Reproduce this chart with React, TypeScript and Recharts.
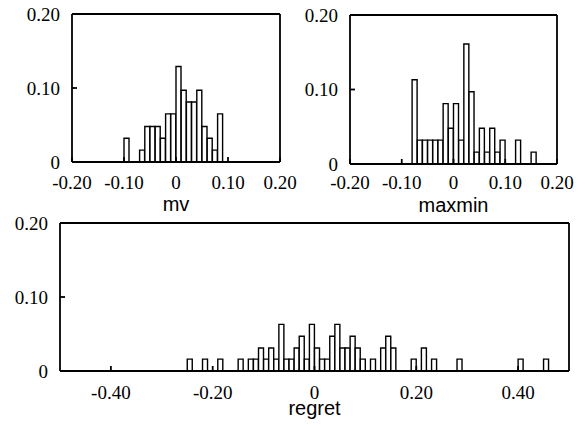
import React from 'react';
import { BarChart, Bar, XAxis, YAxis, Label } from 'recharts';

// Bin left edges (bin width 0.01) and relative frequencies
const mvBins = [-0.10, -0.07, -0.06, -0.05, -0.04, -0.03, -0.02, -0.01, 0.00, 0.01, 0.02, 0.03, 0.04, 0.05, 0.06, 0.07, 0.08];
const mvFreq = [0.032, 0.016, 0.048, 0.048, 0.048, 0.032, 0.065, 0.065, 0.129, 0.097, 0.081, 0.081, 0.097, 0.048, 0.032, 0.016, 0.065];

const maxminBins = [-0.08, -0.07, -0.06, -0.05, -0.04, -0.03, -0.02, -0.01, 0.00, 0.01, 0.02, 0.03, 0.04, 0.05, 0.06, 0.07, 0.08, 0.09, 0.12, 0.15];
const maxminFreq = [0.113, 0.032, 0.032, 0.032, 0.032, 0.032, 0.081, 0.048, 0.081, 0.032, 0.161, 0.097, 0.016, 0.048, 0.016, 0.048, 0.016, 0.032, 0.032, 0.016];

const regretBins = [-0.25, -0.22, -0.19, -0.15, -0.13, -0.12, -0.11, -0.10, -0.09, -0.08, -0.07, -0.06, -0.05, -0.04, -0.03, -0.02, -0.01, 0.00, 0.01, 0.02, 0.03, 0.04, 0.05, 0.06, 0.07, 0.08, 0.09, 0.11, 0.13, 0.14, 0.15, 0.19, 0.21, 0.23, 0.28, 0.40, 0.45];
const regretFreq = [0.016, 0.016, 0.016, 0.016, 0.016, 0.016, 0.031, 0.016, 0.031, 0.016, 0.063, 0.016, 0.016, 0.031, 0.047, 0.016, 0.063, 0.031, 0.016, 0.016, 0.047, 0.063, 0.031, 0.031, 0.047, 0.031, 0.016, 0.016, 0.031, 0.047, 0.031, 0.016, 0.031, 0.016, 0.016, 0.016, 0.016];

const BIN_WIDTH = 0.01;

const smallTicks = [-0.2, -0.1, 0, 0.1, 0.2];
const smallTopTicks = [-0.1, 0.1];
const regretTicks = [-0.4, -0.2, 0, 0.2, 0.4];
const yTicks = [0, 0.1, 0.2];
const yInnerTicks = [0.1];

const toData = (bins: number[], freq: number[]) =>
  bins.map((b, i) => ({ x: +(b + BIN_WIDTH / 2).toFixed(4), y: freq[i] }));

const fmt = (v: number) => (v === 0 ? '0' : v.toFixed(2));

const SERIF = "'Liberation Serif', 'Times New Roman', 'DejaVu Serif', serif";
const SANS = "'Liberation Sans', Arial, 'DejaVu Sans', sans-serif";
const lineStyle = { stroke: '#000', strokeWidth: 1.8 };

const XTick = (props: any) => (
  <text x={props.x} y={props.y} dy="0.71em" textAnchor="middle" fontFamily={SERIF} fontSize={19} fill="#000">
    {fmt(props.payload.value)}
  </text>
);
const YTick = (props: any) => (
  <text x={props.x} y={props.y} dy="0.35em" textAnchor="end" fontFamily={SERIF} fontSize={19} fill="#000">
    {fmt(props.payload.value)}
  </text>
);

type HistProps = {
  left: number; top: number; width: number; height: number;
  margin: { top: number; right: number; bottom: number; left: number };
  data: { x: number; y: number }[];
  domain: [number, number];
  ticks: number[];
  topTicks: number[];
  yWidth: number; xHeight: number;
  xTickMargin: number; yTickMargin: number;
  title: string; titleOffset: number;
};

function Hist(p: HistProps) {
  const TitleContent = (lp: any) => {
    const vb = lp.viewBox;
    return (
      <text x={vb.x + vb.width / 2} y={vb.y + vb.height - p.titleOffset} textAnchor="middle"
        fontFamily={SANS} fontSize={20} fill="#000">{p.title}</text>
    );
  };
  return (
    <div style={{ position: 'absolute', left: p.left, top: p.top }}>
      <BarChart width={p.width} height={p.height} data={p.data} margin={p.margin} barCategoryGap={0} barGap={0}>
        <XAxis xAxisId="b" dataKey="x" type="number" domain={p.domain} ticks={p.ticks} allowDataOverflow
          orientation="bottom" height={p.xHeight} tickSize={-5} tickMargin={p.xTickMargin}
          tick={<XTick />} axisLine={lineStyle} tickLine={lineStyle} interval={0}>
          <Label content={TitleContent} position="insideBottom" />
        </XAxis>
        <XAxis xAxisId="t" dataKey="x" type="number" domain={p.domain} ticks={p.topTicks} allowDataOverflow
          orientation="top" height={1} tickSize={-5} tick={false} axisLine={lineStyle} tickLine={lineStyle} interval={0} />
        <YAxis yAxisId="l" type="number" domain={[0, 0.2]} ticks={yTicks} allowDataOverflow
          orientation="left" width={p.yWidth} tickSize={-5} tickMargin={p.yTickMargin}
          tick={<YTick />} axisLine={lineStyle} tickLine={lineStyle} interval={0} />
        <YAxis yAxisId="r" type="number" domain={[0, 0.2]} ticks={yInnerTicks} allowDataOverflow
          orientation="right" width={1} tickSize={-5} tick={false} axisLine={lineStyle} tickLine={lineStyle} interval={0} />
        <Bar xAxisId="b" yAxisId="l" dataKey="y" fill="#fff" stroke="#000" strokeWidth={1.4} isAnimationActive={false} />
      </BarChart>
    </div>
  );
}

export default function App() {
  return (
    <div style={{ position: 'absolute', left: 0, top: 0, width: 585, height: 425, background: '#fff', overflow: 'hidden' }}>
      <Hist left={0} top={0} width={310} height={215}
        margin={{ top: 13, right: 29, bottom: 0, left: 12 }}
        data={toData(mvBins, mvFreq)} domain={[-0.2, 0.2]} ticks={smallTicks} topTicks={smallTopTicks}
        yWidth={60} xHeight={53} xTickMargin={19} yTickMargin={17} title="mv" titleOffset={4} />
      <Hist left={290} top={0} width={295} height={215}
        margin={{ top: 14, right: 27, bottom: 0, left: 12 }}
        data={toData(maxminBins, maxminFreq)} domain={[-0.2, 0.2]} ticks={smallTicks} topTicks={smallTopTicks}
        yWidth={48} xHeight={51} xTickMargin={17} yTickMargin={17} title="maxmin" titleOffset={3} />
      <Hist left={0} top={200} width={585} height={225}
        margin={{ top: 22, right: 15, bottom: 0, left: 12 }}
        data={toData(regretBins, regretFreq)} domain={[-0.5, 0.5]} ticks={regretTicks} topTicks={regretTicks}
        yWidth={48} xHeight={54} xTickMargin={20} yTickMargin={17} title="regret" titleOffset={10} />
    </div>
  );
}
